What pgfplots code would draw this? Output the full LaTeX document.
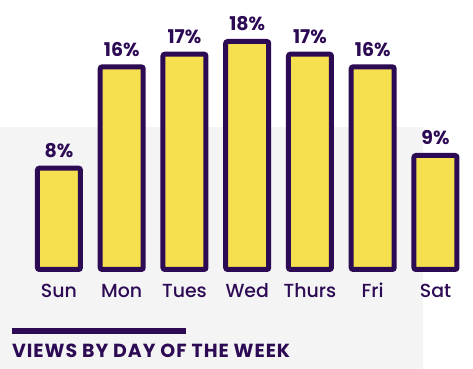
\documentclass[border=0pt]{standalone}
\usepackage{fontspec}
\setmainfont{Poppins}
\newfontfamily\pmed{Poppins Medium}
\usepackage{pgfplots}
\pgfplotsset{compat=1.18}
\definecolor{barY}{HTML}{F6E04F}
\definecolor{pur}{HTML}{2C0A54}
\definecolor{bg}{HTML}{F4F4F4}
\begin{document}
\begin{tikzpicture}
\path[use as bounding box] (0,0) rectangle (473bp,369bp);
\fill[bg] (0,0) rectangle (423bp,242bp);
\begin{axis}[at={(27.6bp,99.5bp)}, anchor=south west, scale only axis,
  width=439.25bp, height=228bp, xmin=-0.5, xmax=6.5, ymin=0, ymax=18,
  /pgf/number format/assume math mode=true,
  axis line style={draw=none}, ymajorticks=false, xtick=data,
  xticklabels={Sun,Mon,Tues,Wed,Thurs,Fri,Sat}, major tick length=0pt,
  xticklabel style={font=\pmed\fontsize{19}{19}\selectfont, text=pur, anchor=base, yshift=-28.5bp},
  clip=false, ybar, bar width=43bp]
\addplot[fill=barY, draw=pur, line width=5bp, rounded corners=2bp,
  nodes near coords={\pgfmathprintnumber{\pgfplotspointmeta}\%},
  nodes near coords style={font=\bfseries\fontsize{19}{19}\selectfont, text=pur, anchor=base, inner sep=0pt, yshift=10.5bp}]
  coordinates {(0,8)(1,16)(2,17)(3,18)(4,17)(5,16)(6,9)};
\end{axis}
\fill[pur] (12bp,35bp) rectangle (186bp,41bp);
\node[anchor=base west, inner sep=0pt, text=pur, font=\bfseries\fontsize{19}{19}\selectfont\addfontfeature{LetterSpace=5}] at (12bp,12bp) {VIEWS BY DAY OF THE WEEK};
\end{tikzpicture}
\end{document}
